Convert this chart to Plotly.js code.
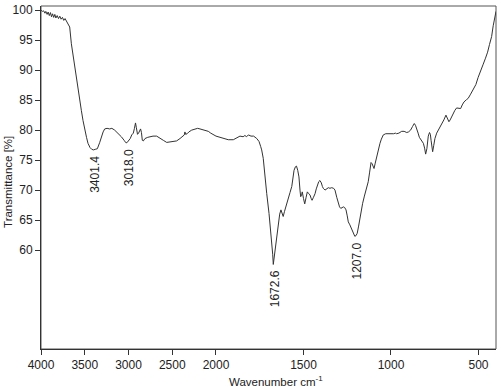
<!DOCTYPE html>
<html>
<head>
<meta charset="utf-8">
<script src="https://cdn.plot.ly/plotly-3.0.1.min.js"></script>
<style>html,body{margin:0;padding:0;background:#fff;}#chart{width:501px;height:387px;}</style>
</head>
<body>
<div id="chart"></div>
<script>
// High-wavenumber region (4000-2000 cm-1), compressed scale
const wnHigh = [4000,3985,3970,3955,3945,3930,3918,3905,3892,3880,3868,3855,3842,3830,3815,3800,3785,3770,3755,3740,3725,3712,3695,3672,3653,3635,3615,3596,3577,3558,3539,3520,3501,3480,3463,3440,3420,3401,3380,3356,3330,3311,3290,3272,3245,3215,3190,3158,3120,3082,3050,3030,3018,3000,2980,2963,2945,2932,2920,2910,2897,2885,2872,2862,2852,2842,2830,2811,2780,2754,2720,2678,2640,2602,2563,2520,2488,2450,2411,2380,2362,2355,2347,2330,2310,2278,2240,2210,2183,2150,2120,2088,2060,2030,2000];
const tHigh = [100.0,99.8,99.9,99.5,99.8,99.3,99.7,99.1,99.6,98.9,99.4,98.8,99.3,98.7,99.1,98.6,99.0,98.5,98.8,98.3,98.6,98.3,97.9,97.2,94.4,92.5,90.6,88.9,87.2,85.2,83.3,81.6,80.0,78.8,77.8,77.1,76.8,76.7,76.8,76.9,77.9,78.9,79.7,80.2,80.3,80.2,80.3,80.0,79.5,78.9,78.3,77.9,77.9,78.2,78.6,79.2,79.5,80.3,81.2,80.4,79.3,79.5,79.9,80.2,79.6,78.3,78.2,78.6,78.8,78.9,79.0,79.0,78.6,78.3,77.95,78.0,78.05,78.2,78.6,79.0,79.2,79.7,79.3,79.4,79.7,80.0,80.2,80.3,80.2,80.1,80.0,79.8,79.5,79.2,79.0];
// Low-wavenumber region (2000-400 cm-1)
const wnLow = [2000,1977,1950,1930,1901,1880,1863,1845,1835,1825,1815,1800,1785,1767,1754,1745,1739,1730,1724,1717,1710,1697,1689,1682,1676,1672.6,1665,1657,1650,1644,1636,1629,1622,1616,1609,1602,1595,1587,1577,1567,1560,1554,1546,1540,1533,1526,1520,1516,1511,1507,1500,1493,1485,1478,1470,1463,1456,1451,1443,1434,1427,1421,1413,1406,1398,1392,1387,1377,1367,1358,1349,1339,1328,1320,1310,1301,1294,1287,1280,1272,1265,1257,1250,1244,1235,1225,1216,1207,1200,1193,1185,1177,1170,1162,1152,1143,1136,1130,1122,1114,1108,1100,1097,1090,1082,1072,1063,1055,1044,1030,1016,1006,996,985,975,968,955,939,925,910,900,888,877,867,860,853,845,838,825,815,808,802,795,787,780,775,771,766,762,756,749,739,730,720,711,698,686,677,669,662,654,644,635,625,615,602,593,583,568,559,545,530,515,502,490,473,460,448,437,425,416,406,400];
const tLow = [79.0,78.8,78.5,78.4,78.4,78.7,79.0,78.9,79.1,78.9,79.2,79.0,79.0,78.6,78.1,77.3,76.7,75.3,73.3,71.4,69.4,66.1,63.8,61.7,59.3,57.6,59.5,61.1,63.0,64.4,66.0,66.7,66.0,65.6,66.4,67.2,67.9,68.6,69.6,70.6,72.0,73.3,73.9,74.0,73.3,72.2,70.0,68.9,69.2,69.7,68.6,67.7,68.8,69.7,69.4,69.2,68.6,68.3,68.8,69.4,70.2,70.8,71.4,71.6,71.2,70.6,70.3,70.0,70.2,70.4,70.3,70.4,70.3,70.0,68.8,67.8,67.2,66.95,67.1,67.2,67.1,66.7,65.7,64.7,64.2,63.6,62.9,62.3,62.4,62.8,64.0,65.6,66.8,67.8,69.0,70.0,70.8,71.4,73.0,74.6,74.4,73.7,73.6,74.5,75.6,76.8,77.8,78.5,79.2,79.4,79.4,79.4,79.3,79.4,79.5,79.4,79.5,79.8,79.8,79.6,79.7,80.0,80.6,81.1,80.8,80.3,79.5,78.8,78.3,77.8,77.0,76.0,76.9,79.0,79.6,79.3,78.3,77.0,76.4,77.4,78.6,79.5,80.0,80.4,80.8,81.7,82.5,82.0,81.4,81.7,82.2,82.7,83.3,83.7,83.7,83.6,84.2,84.7,85.1,85.3,86.0,86.9,87.6,88.8,89.6,91.0,92.0,93.0,94.3,95.6,97.4,98.9,99.8];
// Peak labels
const peakWn = [3401.4, 3018.0, 1672.6, 1207.0];
const peakT = [76.7, 77.9, 57.6, 62.3];
const peakLabels = ["3401.4", "3018.0", "1672.6", "1207.0"];
const xTicksHigh = [4000, 3500, 3000, 2500, 2000];
const xTicksLow = [1500, 1000, 500];
const yTicks = [60, 65, 70, 75, 80, 85, 90, 95, 100];

const FONT = 'Liberation Sans, Arial, sans-serif';
const lineStyle = {color: '#333333', width: 1};

const traces = [
  {x: wnHigh, y: tHigh, type: 'scatter', mode: 'lines', line: lineStyle, xaxis: 'x', yaxis: 'y', hoverinfo: 'skip'},
  {x: wnLow, y: tLow, type: 'scatter', mode: 'lines', line: lineStyle, xaxis: 'x2', yaxis: 'y', hoverinfo: 'skip'}
];

const split = 0.3846;
const axCommon = {
  showgrid: false, zeroline: false, showline: true, linecolor: '#333', linewidth: 1,
  ticks: 'outside', ticklen: 5, tickcolor: '#333', tickwidth: 1,
  tickfont: {family: FONT, size: 12, color: '#222'}
};

const annotations = peakWn.map((w, i) => ({
  x: w, y: peakT[i], xref: w >= 2000 ? 'x' : 'x2', yref: 'y',
  text: peakLabels[i], showarrow: false, textangle: -90,
  xanchor: 'center', yanchor: 'top', yshift: -4, xshift: 2,
  font: {family: FONT, size: 12, color: '#222'}
}));
annotations.push({
  text: 'Wavenumber cm<sup>-1</sup>', xref: 'paper', yref: 'paper', x: 0.516, y: 0,
  xanchor: 'center', yanchor: 'middle', yshift: -32, showarrow: false,
  font: {family: FONT, size: 11.5, color: '#222'}
});
annotations.push({
  text: 'Transmittance [%]', xref: 'paper', yref: 'paper', x: -0.0725, y: 0.487,
  xanchor: 'center', yanchor: 'middle', textangle: -90, showarrow: false,
  font: {family: FONT, size: 11.5, color: '#222'}
});

const layout = {
  width: 501, height: 387,
  margin: {l: 41, r: 5, t: 6, b: 38},
  paper_bgcolor: '#fff', plot_bgcolor: '#fff',
  showlegend: false,
  xaxis: Object.assign({}, axCommon, {domain: [0, split], range: [4000, 2000], tickvals: xTicksHigh, anchor: 'y'}),
  xaxis2: Object.assign({}, axCommon, {domain: [split, 1], range: [2000, 400], tickvals: xTicksLow, anchor: 'y'}),
  yaxis: Object.assign({}, axCommon, {range: [43.5, 100.7], tickvals: yTicks, anchor: 'x'}),
  shapes: [{type: 'rect', xref: 'paper', yref: 'paper', x0: 0, x1: 1, y0: 0, y1: 1, line: {color: '#555', width: 1}, layer: 'below'}],
  annotations: annotations
};

Plotly.newPlot('chart', traces, layout, {staticPlot: true, displayModeBar: false});
</script>
</body>
</html>
